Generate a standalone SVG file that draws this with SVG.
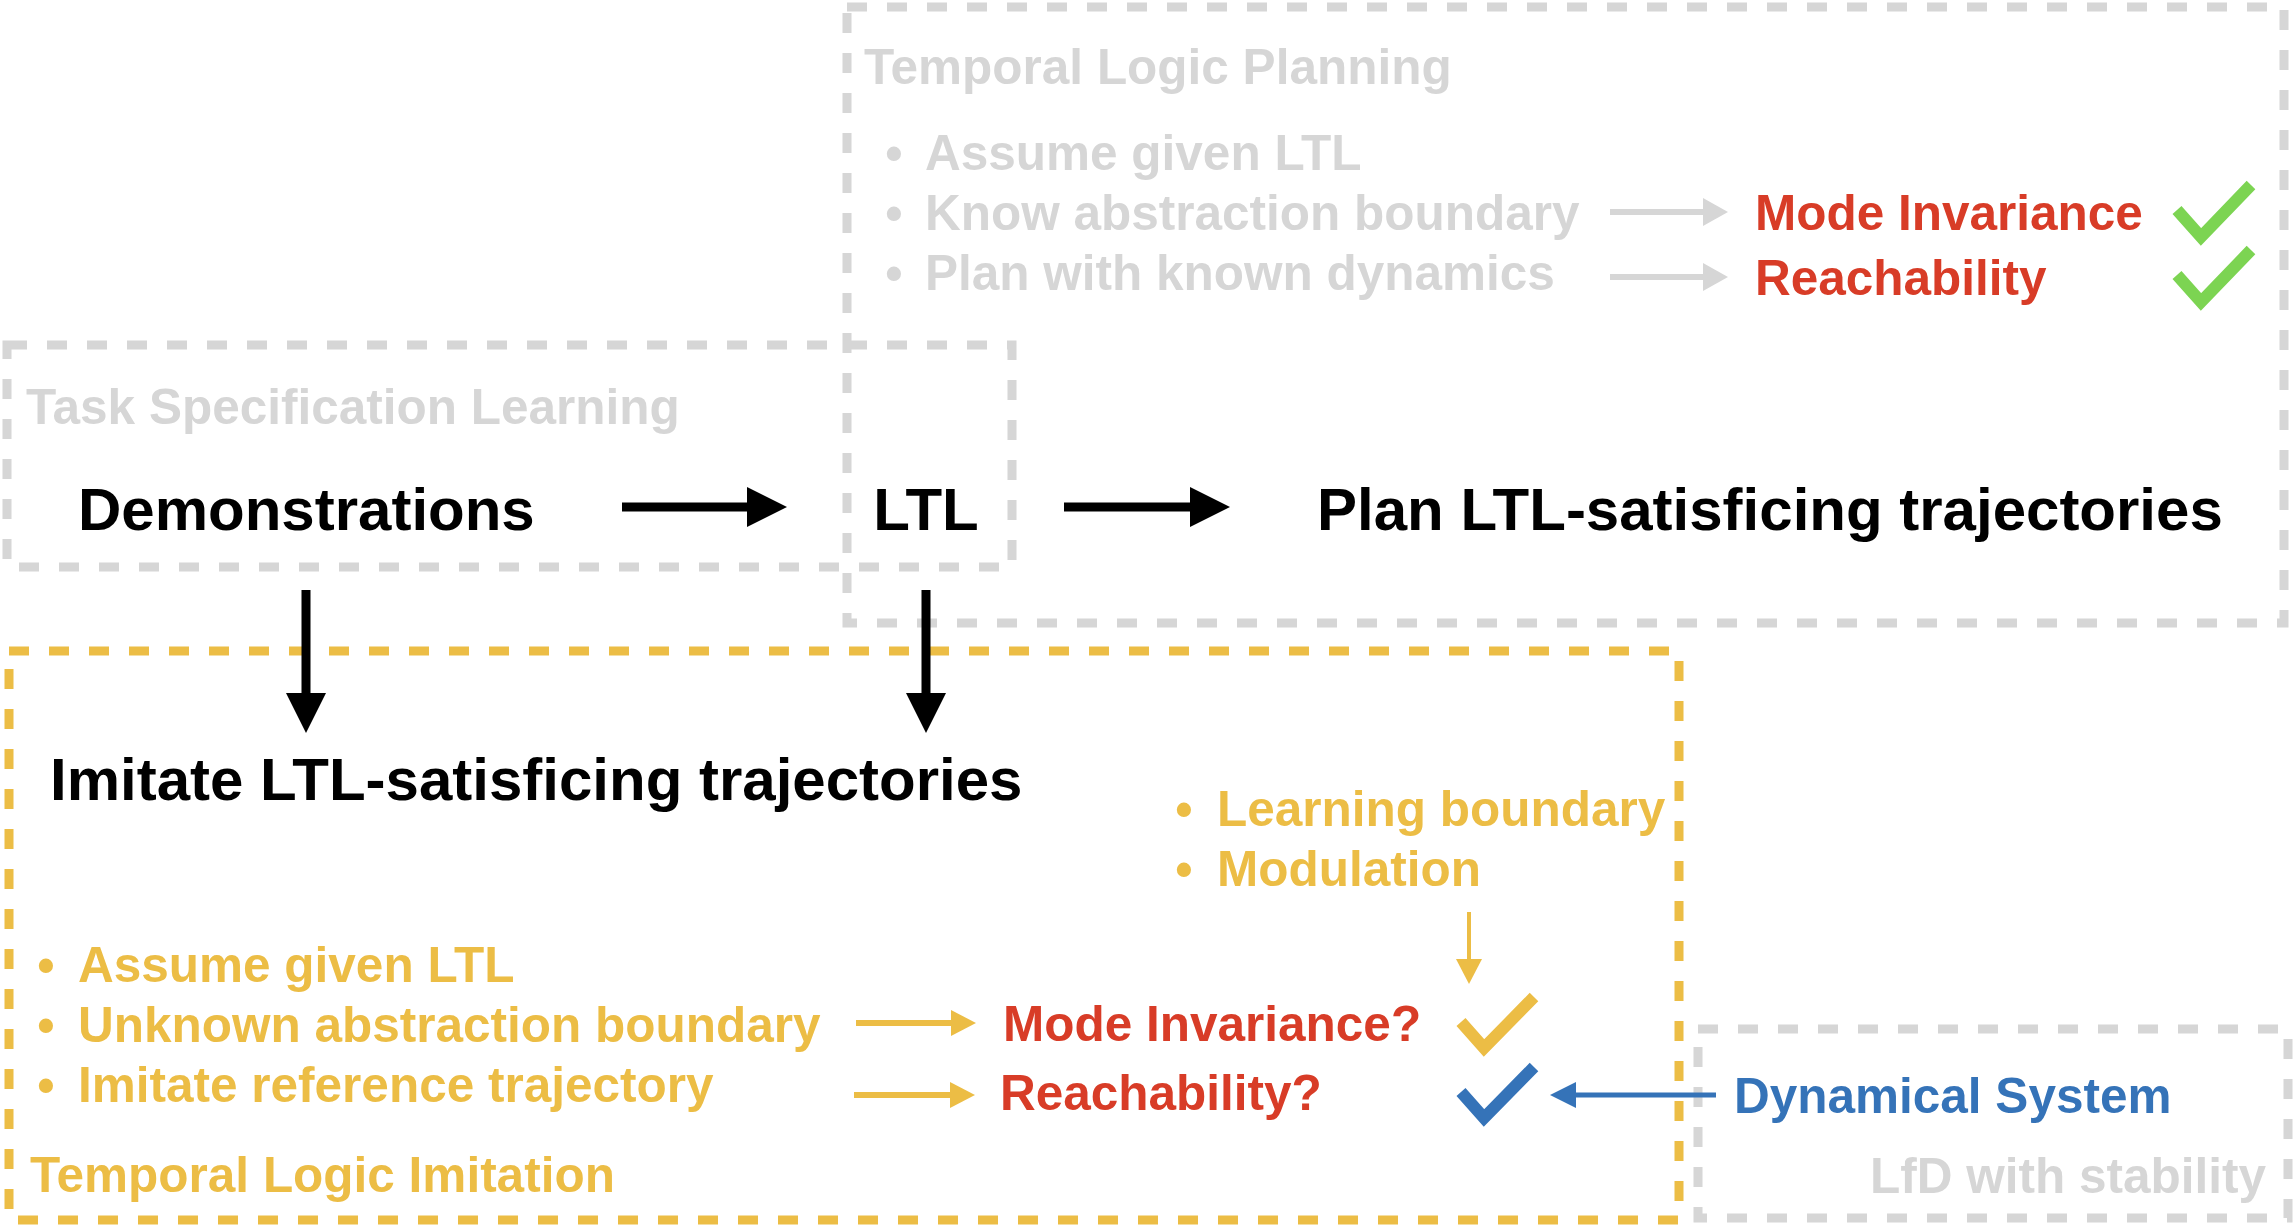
<svg xmlns="http://www.w3.org/2000/svg" width="2296" height="1228" viewBox="0 0 2296 1228">
<style>
text{font-family:"Liberation Sans",Arial,Helvetica,sans-serif;font-weight:bold}
.big{font-size:60px;fill:#000}
.md{font-size:49.5px}
.gray{fill:#d6d6d6}
.yel{fill:#ecbd45}
.red{fill:#d83c27}
.blue{fill:#3573b8}
.bul{text-anchor:middle}
.box{fill:none;stroke-width:9;stroke-dasharray:20 20}
.gbox{stroke:#d6d6d6}
.ybox{stroke:#ecbd45}
.chk{fill:none;stroke-width:12;stroke-linejoin:miter;stroke-linecap:butt}
</style>
<defs>
<marker id="hb" markerUnits="userSpaceOnUse" markerWidth="40" markerHeight="40" refX="0" refY="20" orient="auto" overflow="visible"><path d="M0,0 L40,20 L0,40 z" fill="#000"/></marker>
<marker id="hg" markerUnits="userSpaceOnUse" markerWidth="25" markerHeight="28" refX="0" refY="14" orient="auto" overflow="visible"><path d="M0,0 L25,14 L0,28 z" fill="#d6d6d6"/></marker>
<marker id="hy" markerUnits="userSpaceOnUse" markerWidth="25" markerHeight="26" refX="0" refY="13" orient="auto" overflow="visible"><path d="M0,0 L25,13 L0,26 z" fill="#ecbd45"/></marker>
<marker id="hbl" markerUnits="userSpaceOnUse" markerWidth="26" markerHeight="26" refX="0" refY="13" orient="auto" overflow="visible"><path d="M0,0 L26,13 L0,26 z" fill="#3573b8"/></marker>
</defs>
<rect width="2296" height="1228" fill="#fff"/>

<g id="planning">
<rect class="box gbox" x="847" y="7" width="1437" height="616"/>
<text class="md gray" x="864" y="84">Temporal Logic Planning</text>
<text class="md gray bul" x="894" y="170">•</text>
<text class="md gray" x="925" y="170">Assume given LTL</text>
<text class="md gray bul" x="894" y="230">•</text>
<text class="md gray" x="925" y="230">Know abstraction boundary</text>
<text class="md gray bul" x="894" y="290">•</text>
<text class="md gray" x="925" y="290">Plan with known dynamics</text>
<text class="md red" x="1755" y="230">Mode Invariance</text>
<text class="md red" x="1755" y="295">Reachability</text>
<path class="chk" stroke="#7cd452" d="M2177,210 l24,27 l50,-52"/>
<path class="chk" stroke="#7cd452" d="M2177,275 l24,27 l50,-52"/>
<text class="big" x="1317" y="530">Plan LTL-satisficing trajectories</text>
</g>

<g id="task-spec">
<rect class="box gbox" x="7" y="345" width="1005" height="222"/>
<text class="md gray" x="26" y="424">Task Specification Learning</text>
<text class="big" x="78" y="530">Demonstrations</text>
<text class="big" x="926" y="530" text-anchor="middle">LTL</text>
</g>

<g id="imitation">
<rect class="box ybox" x="9" y="651" width="1670" height="569"/>
<text class="big" x="50" y="800">Imitate LTL-satisficing trajectories</text>
<text class="md yel bul" x="1184" y="826">•</text>
<text class="md yel" x="1217" y="826">Learning boundary</text>
<text class="md yel bul" x="1184" y="886">•</text>
<text class="md yel" x="1217" y="886">Modulation</text>
<text class="md yel bul" x="46" y="982">•</text>
<text class="md yel" x="78" y="982">Assume given LTL</text>
<text class="md yel bul" x="46" y="1042">•</text>
<text class="md yel" x="78" y="1042">Unknown abstraction boundary</text>
<text class="md yel bul" x="46" y="1102">•</text>
<text class="md yel" x="78" y="1102">Imitate reference trajectory</text>
<text class="md red" x="1003" y="1041">Mode Invariance?</text>
<text class="md red" x="1000" y="1110">Reachability?</text>
<path class="chk" stroke="#ecbd45" d="M1461,1022 l23,26 l50,-51"/>
<path class="chk" stroke="#3573b8" d="M1461,1092 l23,26 l50,-51"/>
<text class="md yel" x="30" y="1192">Temporal Logic Imitation</text>
</g>

<g id="lfd">
<rect class="box gbox" x="1698" y="1029" width="590" height="189"/>
<text class="md blue" x="1734" y="1113">Dynamical System</text>
<text class="md gray" x="2266" y="1193" text-anchor="end">LfD with stability</text>
</g>

<g id="connectors">
<line x1="622" y1="507" x2="747" y2="507" stroke="#000" stroke-width="9" marker-end="url(#hb)"/>
<line x1="1064" y1="507" x2="1190" y2="507" stroke="#000" stroke-width="9" marker-end="url(#hb)"/>
<line x1="306" y1="590" x2="306" y2="693" stroke="#000" stroke-width="9" marker-end="url(#hb)"/>
<line x1="926" y1="590" x2="926" y2="693" stroke="#000" stroke-width="9" marker-end="url(#hb)"/>
<line x1="1610" y1="212" x2="1703" y2="212" stroke="#d6d6d6" stroke-width="6" marker-end="url(#hg)"/>
<line x1="1610" y1="277" x2="1703" y2="277" stroke="#d6d6d6" stroke-width="6" marker-end="url(#hg)"/>
<line x1="856" y1="1023" x2="951" y2="1023" stroke="#ecbd45" stroke-width="6" marker-end="url(#hy)"/>
<line x1="854" y1="1095" x2="950" y2="1095" stroke="#ecbd45" stroke-width="6" marker-end="url(#hy)"/>
<line x1="1469" y1="912" x2="1469" y2="959" stroke="#ecbd45" stroke-width="4" marker-end="url(#hy)"/>
<line x1="1716" y1="1095" x2="1576" y2="1095" stroke="#3573b8" stroke-width="5" marker-end="url(#hbl)"/>
</g>
</svg>
